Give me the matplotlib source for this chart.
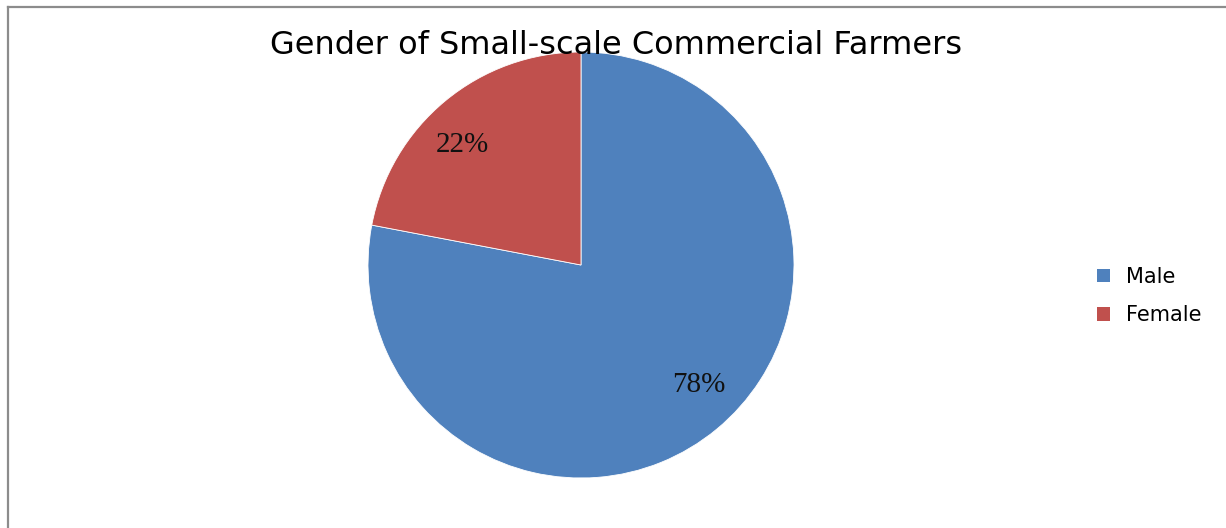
import numpy as np
import matplotlib.pyplot as plt
from matplotlib.lines import Line2D
from matplotlib.patches import Patch

# gender split of small-scale commercial farmers
labels = ["Male", "Female"]
shares = [78, 22]
colors = ["#4F81BD", "#C0504D"]
title = "Gender of Small-scale Commercial Farmers"

W, H = 1226, 528
fig = plt.figure(figsize=(W / 100, H / 100), dpi=100)

# pie axes: centre (581, 265), radius 213 px
cx, cy, r = 581, 265, 213
ax = fig.add_axes([(cx - r) / W, (H - cy - r) / H, 2 * r / W, 2 * r / H])
wedges, texts, autotexts = ax.pie(
    shares, colors=colors, startangle=90, counterclock=False,
    autopct="%d%%", pctdistance=0.79, radius=1.0,
    wedgeprops=dict(edgecolor="white", linewidth=0.6),
    textprops=dict(family="Liberation Serif", fontsize=21, color="#111111"))

# nudge the percentage labels a little anticlockwise of each wedge's middle
for w, t in zip(wedges, autotexts):
    mid = np.deg2rad((w.theta1 + w.theta2) / 2 + 5)
    t.set_position((0.79 * np.cos(mid), 0.79 * np.sin(mid)))

ax.set_xlim(-1, 1)
ax.set_ylim(-1, 1)
ax.set_aspect("equal")
ax.axis("off")

# title
fig.text(616 / W, 1 - 46 / H, title, ha="center", va="center",
         fontsize=23, family="DejaVu Sans", color="black")

# legend
handles = [Patch(facecolor=c, edgecolor="none") for c in colors]
leg = fig.legend(handles, labels, loc="center left",
                 bbox_to_anchor=(1097 / W, 1 - 296 / H), frameon=False,
                 borderaxespad=0, borderpad=0,
                 prop=dict(family="DejaVu Sans", size=15),
                 handlelength=0.62, handleheight=0.62, handletextpad=0.75,
                 labelspacing=0.9)

# chart-area frame (open at right and bottom)
fig.add_artist(Line2D([7.5 / W, 7.5 / W], [0, 1 - 6.5 / H],
                      transform=fig.transFigure, color="#8c8c8c", lw=1.6))
fig.add_artist(Line2D([7.5 / W, 1], [1 - 6.5 / H, 1 - 6.5 / H],
                      transform=fig.transFigure, color="#8c8c8c", lw=1.6))

fig.savefig("out.png", dpi=100)
